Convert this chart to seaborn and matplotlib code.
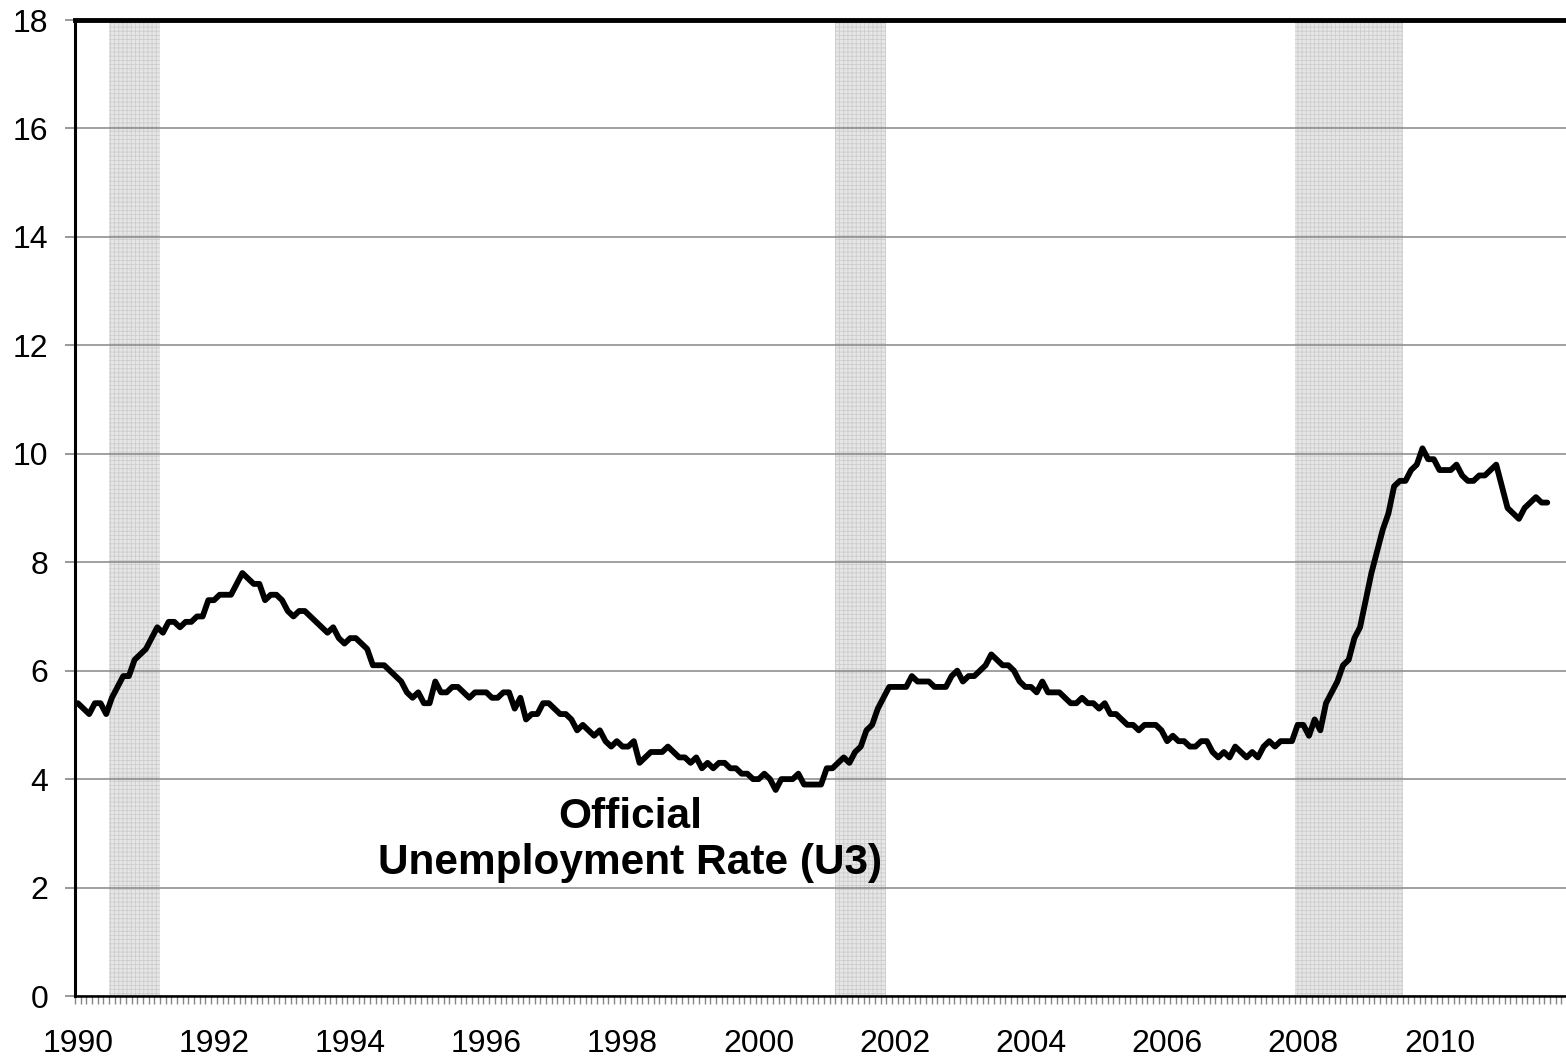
import numpy as np
import pandas as pd
import matplotlib
matplotlib.use('Agg')
import matplotlib.pyplot as plt
import seaborn as sns

# ---------------------------------------------
# data: monthly official unemployment rate (U3), Jan 1990 - Aug 2011
# ---------------------------------------------
start_year = 1990
u3_rate = [
    5.4, 5.3, 5.2, 5.4, 5.4, 5.2, 5.5, 5.7, 5.9, 5.9, 6.2, 6.3,   # 1990
    6.4, 6.6, 6.8, 6.7, 6.9, 6.9, 6.8, 6.9, 6.9, 7.0, 7.0, 7.3,   # 1991
    7.3, 7.4, 7.4, 7.4, 7.6, 7.8, 7.7, 7.6, 7.6, 7.3, 7.4, 7.4,   # 1992
    7.3, 7.1, 7.0, 7.1, 7.1, 7.0, 6.9, 6.8, 6.7, 6.8, 6.6, 6.5,   # 1993
    6.6, 6.6, 6.5, 6.4, 6.1, 6.1, 6.1, 6.0, 5.9, 5.8, 5.6, 5.5,   # 1994
    5.6, 5.4, 5.4, 5.8, 5.6, 5.6, 5.7, 5.7, 5.6, 5.5, 5.6, 5.6,   # 1995
    5.6, 5.5, 5.5, 5.6, 5.6, 5.3, 5.5, 5.1, 5.2, 5.2, 5.4, 5.4,   # 1996
    5.3, 5.2, 5.2, 5.1, 4.9, 5.0, 4.9, 4.8, 4.9, 4.7, 4.6, 4.7,   # 1997
    4.6, 4.6, 4.7, 4.3, 4.4, 4.5, 4.5, 4.5, 4.6, 4.5, 4.4, 4.4,   # 1998
    4.3, 4.4, 4.2, 4.3, 4.2, 4.3, 4.3, 4.2, 4.2, 4.1, 4.1, 4.0,   # 1999
    4.0, 4.1, 4.0, 3.8, 4.0, 4.0, 4.0, 4.1, 3.9, 3.9, 3.9, 3.9,   # 2000
    4.2, 4.2, 4.3, 4.4, 4.3, 4.5, 4.6, 4.9, 5.0, 5.3, 5.5, 5.7,   # 2001
    5.7, 5.7, 5.7, 5.9, 5.8, 5.8, 5.8, 5.7, 5.7, 5.7, 5.9, 6.0,   # 2002
    5.8, 5.9, 5.9, 6.0, 6.1, 6.3, 6.2, 6.1, 6.1, 6.0, 5.8, 5.7,   # 2003
    5.7, 5.6, 5.8, 5.6, 5.6, 5.6, 5.5, 5.4, 5.4, 5.5, 5.4, 5.4,   # 2004
    5.3, 5.4, 5.2, 5.2, 5.1, 5.0, 5.0, 4.9, 5.0, 5.0, 5.0, 4.9,   # 2005
    4.7, 4.8, 4.7, 4.7, 4.6, 4.6, 4.7, 4.7, 4.5, 4.4, 4.5, 4.4,   # 2006
    4.6, 4.5, 4.4, 4.5, 4.4, 4.6, 4.7, 4.6, 4.7, 4.7, 4.7, 5.0,   # 2007
    5.0, 4.8, 5.1, 4.9, 5.4, 5.6, 5.8, 6.1, 6.2, 6.6, 6.8, 7.3,   # 2008
    7.8, 8.2, 8.6, 8.9, 9.4, 9.5, 9.5, 9.7, 9.8, 10.1, 9.9, 9.9,  # 2009
    9.7, 9.7, 9.7, 9.8, 9.6, 9.5, 9.5, 9.6, 9.6, 9.7, 9.8, 9.4,   # 2010
    9.0, 8.9, 8.8, 9.0, 9.1, 9.2, 9.1, 9.1,                       # 2011
]

# recessions (first month, last month) as (year, month)
recessions = [((1990, 7), (1991, 3)),
              ((2001, 3), (2001, 11)),
              ((2007, 12), (2009, 6))]

year_labels = list(range(1990, 2012, 2))
y_ticks = list(range(0, 20, 2))
note = "Official\nUnemployment Rate (U3)"


def month_index(ym):
    return (ym[0] - start_year) * 12 + (ym[1] - 1)


df = pd.DataFrame({'month': np.arange(len(u3_rate)) + 0.5, 'rate': u3_rate})

# ---------------------------------------------
# plot
# ---------------------------------------------
sns.set_style('white')
plt.rcParams['font.family'] = ['Liberation Sans', 'DejaVu Sans']
plt.rcParams['hatch.linewidth'] = 0.6
plt.rcParams['text.color'] = 'black'
plt.rcParams['xtick.labelcolor'] = 'black'
plt.rcParams['ytick.labelcolor'] = 'black'

fig = plt.figure(figsize=(15.66, 10.6), dpi=100)
ax = fig.add_axes([75 / 1566, 1 - 996 / 1060, 1 - 75 / 1566, (996 - 20) / 1060])

n_cat = 262.8
ax.set_xlim(0, n_cat)
ax.set_ylim(0, 18)

for a, b in recessions:
    ax.axvspan(month_index(a), month_index(b) + 1, facecolor='#e6e6e6',
               edgecolor='#cdcdcd', hatch='++++', lw=0, zorder=0.2)

ax.set_axisbelow(True)
ax.yaxis.grid(True, color='#868686', lw=1.1)
ax.xaxis.grid(False)

sns.lineplot(data=df, x='month', y='rate', color='black', lw=4.2, ax=ax,
             zorder=3)

# axes styling
ax.spines['right'].set_visible(False)
ax.spines['top'].set_color('black')
ax.spines['top'].set_linewidth(3.5)
ax.spines['left'].set_color('black')
ax.spines['left'].set_linewidth(2.2)
ax.spines['bottom'].set_color('black')
ax.spines['bottom'].set_linewidth(1.8)

ax.set_yticks(y_ticks)
ax.set_yticklabels([str(v) for v in y_ticks], fontsize=23)
ax.tick_params(axis='y', which='major', direction='out', length=7,
               width=1.2, color='#868686', labelcolor='black', pad=12,
               left=True)

ax.set_xticks([month_index((yr, 1)) + 0.5 for yr in year_labels])
ax.set_xticklabels([str(yr) for yr in year_labels], fontsize=23)
ax.set_xticks(np.arange(0, int(n_cat) + 1), minor=True)
ax.tick_params(axis='x', which='major', length=0, pad=24, bottom=True,
               labelcolor='black')
ax.tick_params(axis='x', which='minor', direction='out', length=6,
               width=1.0, color='#868686', bottom=True)

ax.set_xlabel('')
ax.set_ylabel('')

ax.text(97.8, 2.88, note, ha='center', va='center', fontsize=30.5,
        fontweight='bold', color='black', linespacing=1.2, zorder=4)

fig.savefig('out.png', dpi=100)
